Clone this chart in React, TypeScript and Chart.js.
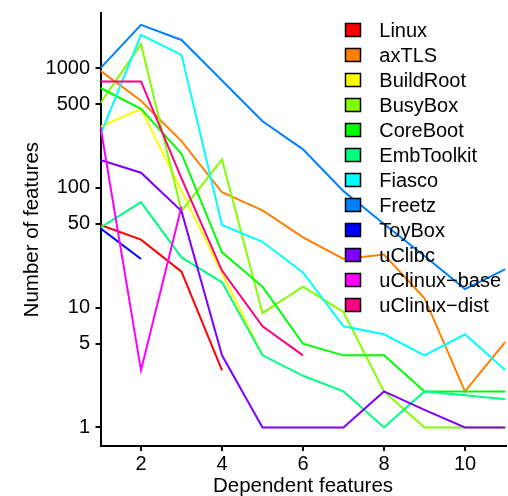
import React, { useEffect, useRef } from 'react';
import { Chart, registerables } from 'chart.js';

Chart.register(...registerables);

const seriesNames = [
  'Linux', 'axTLS', 'BuildRoot', 'BusyBox', 'CoreBoot', 'EmbToolkit',
  'Fiasco', 'Freetz', 'ToyBox', 'uClibc', 'uClinux\u2212base', 'uClinux\u2212dist',
];
const seriesColors = [
  '#FF0000', '#FF8000', '#FFFF00', '#80FF00', '#00FF00', '#00FF80',
  '#00FFFF', '#0080FF', '#0000FF', '#8000FF', '#FF00FF', '#FF0080',
];
const dependentFeatures = [1, 2, 3, 4, 5, 6, 7, 8, 9, 10, 11];

const linux = [49, 37, 20, 3];
const axtls = [950, 535, 246, 92, 65, 38.6, 25.5, 27.8, 12, 2, 5.2];
const buildroot = [324, 457, 94, 19.5, 4];
const busybox = [512, 1587, 64, 173, 9, 15, 9.2, 2, 1, 1, 1];
const coreboot = [683, 457, 193, 29, 15, 5, 4, 4, 2, 2, 2];
const embtoolkit = [46.7, 76, 26.3, 16.3, 4, 2.7, 2, 1, 2, 1.86, 1.72];
const fiasco = [279, 1897, 1292, 49, 35.5, 19.7, 7, 6, 4, 6, 3];
const freetz = [1000, 2300, 1720, 790, 360, 210, 94, 50, 27, 14.3, 21];
const toybox = [46, 25.5];
const uclibc = [171, 134, 64, 4, 1, 1, 1, 2, 1.4, 1, 1];
const uclinuxBase = [324, 3, 70];
const uclinuxDist = [775, 775, 120, 20.4, 7, 4];

const seriesValues = [
  linux, axtls, buildroot, busybox, coreboot, embtoolkit,
  fiasco, freetz, toybox, uclibc, uclinuxBase, uclinuxDist,
];

const yTickValues = [1, 5, 10, 50, 100, 500, 1000];
const xTickValues = [2, 4, 6, 8, 10];

const FONT = "'Liberation Sans', Arial, Helvetica, sans-serif";

const legendPlugin = {
  id: 'innerLegend',
  afterDraw(chart: any) {
    const ctx = chart.ctx;
    ctx.save();
    ctx.font = `20px ${FONT}`;
    ctx.textBaseline = 'alphabetic';
    ctx.textAlign = 'left';
    chart.data.datasets.forEach((ds: any, i: number) => {
      const cy = 30 + i * 25;
      ctx.fillStyle = ds.borderColor;
      ctx.fillRect(345.5, cy - 6.5, 15, 13);
      ctx.strokeStyle = '#000';
      ctx.lineWidth = 1.5;
      ctx.strokeRect(345.5, cy - 6.5, 15, 13);
      ctx.fillStyle = '#000';
      ctx.fillText(ds.label, 379.3, cy + 7.2);
    });
    ctx.restore();
  },
};

export default function App() {
  const canvasRef = useRef<HTMLCanvasElement | null>(null);

  useEffect(() => {
    if (!canvasRef.current) return;
    const datasets = seriesNames.map((name, i) => ({
      label: name,
      data: seriesValues[i].map((v, j) => ({ x: dependentFeatures[j], y: v })),
      borderColor: seriesColors[i],
      backgroundColor: seriesColors[i],
      borderWidth: 2,
      pointRadius: 0,
      fill: false,
      tension: 0,
      order: seriesNames.length - 1 - i,
    }));

    const chart = new Chart(canvasRef.current, {
      type: 'line',
      data: { datasets },
      plugins: [legendPlugin],
      options: {
        responsive: false,
        animation: false,
        devicePixelRatio: 1,
        layout: { padding: { top: 13.3, right: 2.5, bottom: 0, left: 0 } },
        plugins: {
          legend: { display: false },
          tooltip: { enabled: false },
          title: { display: false },
        },
        scales: {
          x: {
            type: 'linear',
            min: 1,
            max: 11,
            afterBuildTicks: (s: any) => {
              s.ticks = xTickValues.map((v) => ({ value: v }));
            },
            afterFit: (s: any) => {
              s.height = 50;
              s.paddingLeft = 0;
              s.paddingRight = 0;
              s.paddingTop = 0;
              s.paddingBottom = 0;
            },
            grid: {
              display: true,
              drawOnChartArea: false,
              drawTicks: true,
              tickLength: 5,
              color: '#000',
              lineWidth: 2,
            },
            border: { display: true, color: '#000', width: 2 },
            ticks: {
              font: { family: FONT, size: 20 },
              color: '#000',
              padding: 1.5,
              maxRotation: 0,
              autoSkip: false,
              callback: (v: any) => String(v),
            },
            title: {
              display: true,
              text: 'Dependent features',
              color: '#000',
              font: { family: FONT, size: 20.5, lineHeight: 0.95 },
              padding: { top: 0, bottom: 0 },
            },
          },
          y: {
            type: 'logarithmic',
            min: 0.722,
            max: 2872,
            afterBuildTicks: (s: any) => {
              s.ticks = yTickValues.map((v) => ({ value: v }));
            },
            afterFit: (s: any) => {
              s.width = 100.5;
              s.paddingLeft = 0;
              s.paddingRight = 0;
              s.paddingTop = 0;
              s.paddingBottom = 0;
            },
            grid: {
              display: true,
              drawOnChartArea: false,
              drawTicks: true,
              tickLength: 5,
              color: '#000',
              lineWidth: 2,
            },
            border: { display: true, color: '#000', width: 2 },
            ticks: {
              font: { family: FONT, size: 20 },
              color: '#000',
              padding: 5.5,
              autoSkip: false,
              callback: (v: any) => String(v),
            },
            title: {
              display: true,
              text: 'Number of features',
              color: '#000',
              font: { family: FONT, size: 20.5, lineHeight: 0.95 },
              padding: { top: 23, bottom: 0 },
            },
          },
        },
      } as any,
    });
    return () => chart.destroy();
  }, []);

  return (
    <div style={{ position: 'fixed', left: 0, top: 0, width: 508, height: 496, background: '#fff' }}>
      <canvas ref={canvasRef} width={508} height={496} style={{ display: 'block', width: 508, height: 496 }} />
    </div>
  );
}
